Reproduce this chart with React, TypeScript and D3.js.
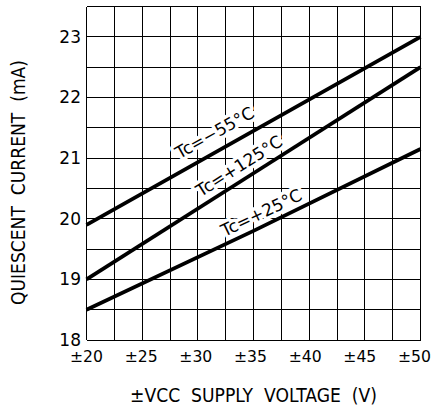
import React from "react";
import * as d3 from "d3";

const voltages = [20, 35, 50];
const currentMinus55 = [19.9, 21.45, 23.0];
const currentPlus125 = [19.0, 20.75, 22.5];
const currentPlus25 = [18.5, 19.8, 21.15];

const xTicks = [20, 25, 30, 35, 40, 45, 50];
const yTicks = [18, 19, 20, 21, 22, 23];
const xGrid = [20, 22.5, 25, 27.5, 30, 32.5, 35, 37.5, 40, 42.5, 45, 47.5, 50];
const yGrid = [18, 18.5, 19, 19.5, 20, 20.5, 21, 21.5, 22, 22.5, 23, 23.5];

const seriesLabels = ["Tc=\u221255\u00B0C", "Tc=+125\u00B0C", "Tc=+25\u00B0C"];
const labelAnchorV = [31.5, 33.7, 35.7];
const labelAnchorI = [21.42, 20.87, 20.1];

const W = 433;
const H = 408;
const FONT = "'DejaVu Sans', sans-serif";

export default function App() {
  const x = d3.scaleLinear().domain([20, 50]).range([86.5, 420.5]);
  const xLab = d3.scaleLinear().domain([20, 50]).range([86.5, 414.5]);
  const y = d3.scaleLinear().domain([18, 23.5]).range([340, 6.5]);
  const series = [currentMinus55, currentPlus125, currentPlus25];
  const line = d3
    .line<number>()
    .x((_, i) => x(voltages[i]))
    .y((d) => y(d));

  const angle = (vals: number[]) => {
    const n = vals.length - 1;
    const dx = x(voltages[n]) - x(voltages[0]);
    const dy = y(vals[n]) - y(vals[0]);
    return (Math.atan2(dy, dx) * 180) / Math.PI;
  };

  return (
    <svg
      width={W}
      height={H}
      style={{ position: "fixed", left: 0, top: 0, background: "#fff" }}
    >
      <rect x={0} y={0} width={W} height={H} fill="#fff" />
      {/* grid */}
      <g stroke="#000" strokeWidth={1} shapeRendering="crispEdges">
        {xGrid.map((v) => (
          <line key={"gx" + v} x1={x(v)} x2={x(v)} y1={y(18)} y2={y(23.5)} />
        ))}
        {yGrid.map((v) => (
          <line key={"gy" + v} x1={x(20)} x2={x(50)} y1={y(v)} y2={y(v)} />
        ))}
      </g>
      {/* series labels with white knockout */}
      {series.map((s, i) => (
        <text
          key={"lab" + i}
          transform={`translate(${x(labelAnchorV[i])},${y(labelAnchorI[i])}) rotate(${angle(s)})`}
          textAnchor="middle"
          dominantBaseline="central"
          fontFamily={FONT}
          fontSize={17}
          fill="#000"
          stroke="#fff"
          strokeWidth={7}
          strokeLinejoin="round"
          style={{ paintOrder: "stroke" }}
        >
          {seriesLabels[i]}
        </text>
      ))}
      {/* data lines */}
      {series.map((s, i) => (
        <path
          key={"ln" + i}
          d={line(s) || ""}
          fill="none"
          stroke="#000"
          strokeWidth={3.8}
        />
      ))}
      {/* y tick labels */}
      {yTicks.map((v) => (
        <text
          key={"yt" + v}
          x={81}
          y={y(v)}
          textAnchor="end"
          dominantBaseline="central"
          fontFamily={FONT}
          fontSize={17}
          fill="#000"
        >
          {v}
        </text>
      ))}
      {/* x tick labels */}
      {xTicks.map((v) => (
        <text
          key={"xt" + v}
          x={xLab(v)}
          y={362}
          textAnchor="middle"
          fontFamily={FONT}
          fontSize={16.5}
          fill="#000"
          textLength={33}
          lengthAdjust="spacingAndGlyphs"
        >
          {"\u00B1" + v}
        </text>
      ))}
      {/* axis titles */}
      <text
        x={253.5}
        y={401.5}
        textAnchor="middle"
        fontFamily={FONT}
        fontSize={19}
        fill="#000"
        textLength={247}
        lengthAdjust="spacingAndGlyphs"
        xmlSpace="preserve"
        style={{ whiteSpace: "pre" }}
      >
        {"\u00B1VCC  SUPPLY  VOLTAGE  (V)"}
      </text>
      <text
        transform={`translate(25,182.5) rotate(-90)`}
        textAnchor="middle"
        fontFamily={FONT}
        fontSize={19}
        fill="#000"
        textLength={245}
        lengthAdjust="spacingAndGlyphs"
        xmlSpace="preserve"
        style={{ whiteSpace: "pre" }}
      >
        {"QUIESCENT  CURRENT  (mA)"}
      </text>
    </svg>
  );
}
